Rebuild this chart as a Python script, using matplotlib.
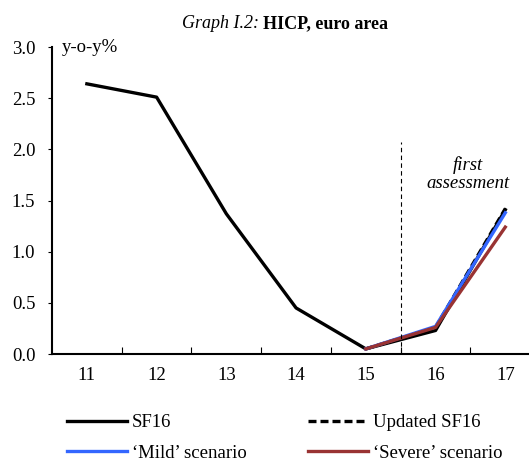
import matplotlib
matplotlib.use("Agg")
import matplotlib.pyplot as plt
import matplotlib.transforms as mtransforms
import numpy as np

plt.rcParams['font.family'] = ['Liberation Serif', 'DejaVu Serif']

years = ["11", "12", "13", "14", "15", "16", "17"]
sf16 = [2.64, 2.51, 1.37, 0.45, 0.05, 0.23, 1.41]
updated_sf16 = [np.nan, np.nan, np.nan, np.nan, 0.05, 0.26, 1.42]
mild = [np.nan, np.nan, np.nan, np.nan, 0.05, 0.27, 1.38]
severe = [np.nan, np.nan, np.nan, np.nan, 0.05, 0.26, 1.24]

fig = plt.figure(figsize=(5.29, 4.61), dpi=100)
ax = fig.add_axes([52/529, 1-354/461, 1-52/529, (354-47)/461])

x = np.arange(len(years))
lw = 2.4
l1, = ax.plot(x, sf16, color='black', lw=lw, label='SF16')
l2, = ax.plot(x, updated_sf16, color='black', lw=lw, ls=(0, (2.4, 1.2)), label='Updated SF16')
l3, = ax.plot(x, mild, color='#3366FF', lw=lw, label='\u2018Mild\u2019 scenario')
l4, = ax.plot(x, severe, color='#993333', lw=lw, label='\u2018Severe\u2019 scenario')

ax.axvline(4.5, ymin=0, ymax=2.07/3.0, color='black', lw=0.8, ls=(0, (4, 3)))

ax.set_xlim(-0.5, 6.34)
ax.set_ylim(0, 3.0)
ax.set_yticks(np.arange(0, 3.01, 0.5))
ax.set_yticklabels([f"{v:.1f}" for v in np.arange(0, 3.01, 0.5)])
ax.set_xticks(x)
ax.set_xticklabels(years)
ax.set_xticks(np.arange(0.5, 6.5, 1.0), minor=True)
ax.tick_params(axis='x', which='major', length=0, pad=9, labelsize=13.5)
ax.tick_params(axis='x', which='minor', direction='in', length=5, width=0.8)
ax.tick_params(axis='y', direction='out', length=3, width=0.8, labelsize=13.5, pad=9)

for s in ['top', 'right']:
    ax.spines[s].set_visible(False)
ax.spines['left'].set_linewidth(1.5)
ax.spines['bottom'].set_linewidth(1.5)

trans = mtransforms.blended_transform_factory(ax.transAxes, ax.transData)
ax.text(0.021, 3.0, 'y-o-y%', fontsize=13.5, ha='left', va='center', transform=trans)
ax.text(5.47, 1.76, 'first\nassessment', fontsize=13.5, style='italic', ha='center', va='center', linespacing=1.1)

fig.text(259/529, 1-24/461, 'Graph I.2:', fontsize=13, style='italic', ha='right', va='center')
fig.text(263/529, 1-24/461, 'HICP, euro area', fontsize=13, weight='bold', ha='left', va='center')

fig.legend(handles=[l1, l3, l2, l4], loc='upper left', bbox_to_anchor=(67/529, 1-414/461),
           ncol=2, frameon=False, fontsize=13.5, handlelength=3.2, handletextpad=0.25,
           columnspacing=3.3, labelspacing=0.72, borderaxespad=0, borderpad=0)

fig.savefig('out.png', dpi=100)
